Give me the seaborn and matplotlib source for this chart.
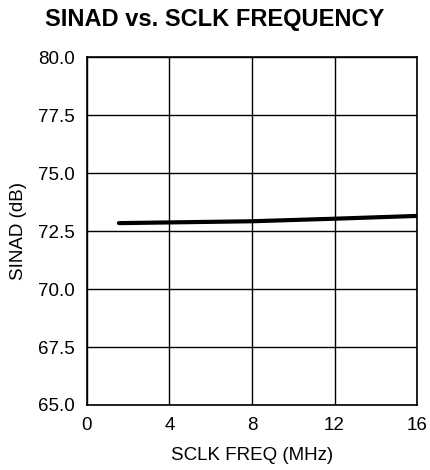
import matplotlib
matplotlib.use("Agg")
import matplotlib.pyplot as plt
import seaborn as sns
import pandas as pd

# SINAD measured against serial clock frequency
sclk_mhz = [1.55, 4.0, 8.0, 12.0, 16.0]
sinad_db = [72.84, 72.87, 72.92, 73.03, 73.15]

x_ticks = [0, 4, 8, 12, 16]
y_ticks = [65.0, 67.5, 70.0, 72.5, 75.0, 77.5, 80.0]

sns.set_theme(style="white")
plt.rcParams["font.family"] = ["Liberation Sans", "DejaVu Sans"]

df = pd.DataFrame({"SCLK FREQ (MHz)": sclk_mhz, "SINAD (dB)": sinad_db})

fig = plt.figure(figsize=(4.3, 4.7), dpi=100)
ax = fig.add_axes([0.2023, 0.1383, 0.7675, 0.7404])

sns.lineplot(data=df, x="SCLK FREQ (MHz)", y="SINAD (dB)", ax=ax,
             color="black", linewidth=3.0)

ax.set_xlim(0, 16)
ax.set_ylim(65, 80)
ax.set_xticks(x_ticks)
ax.set_xticklabels([str(t) for t in x_ticks])
ax.set_yticks(y_ticks)
ax.set_yticklabels([f"{t:.1f}" for t in y_ticks])
ax.grid(True, color="black", linewidth=1.0)
ax.set_axisbelow(True)
for s in ax.spines.values():
    s.set_color("black")
    s.set_linewidth(1.2)
ax.tick_params(axis="y", length=0, labelsize=13.5, colors="black", pad=9)
ax.tick_params(axis="x", length=0, labelsize=13.5, colors="black", pad=9)
ax.set_xlabel("SCLK FREQ (MHz)", fontsize=13.5, color="black", labelpad=9)
ax.set_ylabel("SINAD (dB)", fontsize=13.5, color="black", labelpad=8)

fig.text(0.5, 0.958, "SINAD vs. SCLK FREQUENCY", ha="center", va="center",
         fontsize=17, fontweight="bold", color="black")

fig.savefig("out.png", dpi=100)
